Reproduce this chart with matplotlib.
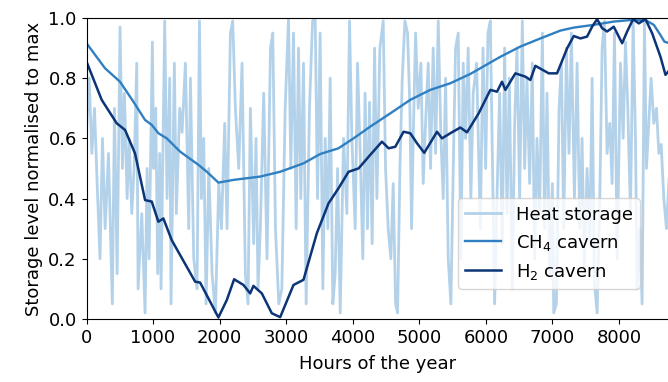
import numpy as np
import matplotlib
matplotlib.use("Agg")
import matplotlib.pyplot as plt

# Heat storage level as (hour, level) pairs
heat_points = [
    (0, 0.63), (40, 0.80), (80, 0.55), (120, 0.70), (160, 0.45), (203, 0.20),
    (240, 0.60), (280, 0.30), (330, 0.55), (388, 0.05), (420, 0.70), (460, 0.15),
    (504, 0.97), (540, 0.50), (570, 0.75), (610, 0.40), (640, 0.60), (680, 0.35),
    (715, 0.50), (755, 0.85), (775, 0.10), (830, 0.35), (880, 0.02), (910, 0.50),
    (940, 0.20), (990, 0.92), (1010, 0.50), (1040, 0.70), (1070, 0.15), (1100, 0.55),
    (1120, 0.10), (1175, 0.99), (1210, 0.40), (1250, 0.80), (1270, 0.05), (1320, 0.85),
    (1350, 0.35), (1400, 0.70), (1436, 0.62), (1486, 0.85), (1536, 0.30), (1561, 0.80),
    (1611, 0.20), (1661, 0.10), (1697, 0.99), (1727, 0.40), (1761, 0.60), (1797, 0.05),
    (1837, 0.50), (1887, 0.15), (1937, 0.02), (1987, 0.45), (2027, 0.30), (2077, 0.65),
    (2112, 0.30), (2162, 0.95), (2197, 0.99), (2237, 0.70), (2287, 0.50), (2337, 0.85),
    (2387, 0.15), (2427, 0.05), (2462, 0.70), (2512, 0.25), (2547, 0.60), (2577, 0.10),
    (2612, 0.30), (2662, 0.75), (2712, 0.20), (2764, 0.90), (2799, 0.95), (2839, 0.30),
    (2889, 0.05), (2935, 0.10), (2985, 0.70), (3035, 1.00), (3070, 0.50), (3110, 0.95),
    (3150, 0.30), (3185, 0.90), (3220, 0.40), (3260, 0.85), (3300, 0.05), (3350, 0.70),
    (3396, 0.99), (3436, 1.00), (3471, 0.40), (3510, 0.95), (3551, 0.10), (3586, 0.60),
    (3626, 0.30), (3661, 0.80), (3701, 0.05), (3736, 0.15), (3772, 0.50), (3812, 0.02),
    (3862, 0.60), (3912, 0.35), (3952, 0.99), (3987, 0.60), (4037, 0.30), (4072, 0.85),
    (4112, 0.55), (4152, 0.20), (4186, 0.75), (4222, 0.30), (4252, 0.72), (4292, 0.25),
    (4328, 0.90), (4363, 0.40), (4408, 0.90), (4458, 0.99), (4493, 0.50), (4533, 0.30),
    (4573, 0.20), (4608, 0.45), (4644, 0.05), (4674, 0.02), (4709, 0.50), (4744, 0.80),
    (4784, 0.99), (4824, 0.95), (4859, 0.70), (4884, 0.30), (4909, 0.60), (4944, 0.95),
    (4984, 0.70), (5024, 0.85), (5059, 0.45), (5094, 0.65), (5134, 0.85), (5169, 0.50),
    (5209, 0.90), (5245, 0.55), (5285, 0.99), (5325, 0.60), (5360, 0.40), (5395, 0.80),
    (5435, 0.20), (5475, 0.05), (5510, 0.50), (5545, 0.90), (5585, 0.95), (5625, 0.20),
    (5660, 0.85), (5695, 0.60), (5735, 0.90), (5775, 0.40), (5810, 0.75), (5861, 0.85),
    (5917, 0.30), (5957, 0.90), (5997, 0.50), (6032, 0.95), (6067, 0.99), (6107, 0.40),
    (6132, 0.05), (6167, 0.40), (6207, 0.75), (6247, 0.25), (6282, 0.90), (6318, 0.35),
    (6353, 0.80), (6398, 0.10), (6433, 0.65), (6468, 0.90), (6508, 0.40), (6548, 0.99),
    (6583, 0.50), (6618, 0.80), (6658, 0.45), (6698, 0.85), (6733, 0.20), (6768, 0.60),
    (6808, 0.35), (6849, 0.95), (6884, 0.30), (6919, 0.75), (6959, 0.15), (7000, 0.45),
    (7020, 0.02), (7060, 0.05), (7100, 0.70), (7135, 0.85), (7170, 0.30), (7210, 0.90),
    (7250, 0.55), (7285, 0.95), (7331, 0.40), (7371, 0.85), (7411, 0.30), (7446, 0.60),
    (7481, 0.15), (7521, 0.50), (7562, 0.25), (7597, 0.80), (7632, 0.12), (7672, 0.02),
    (7712, 0.40), (7747, 0.90), (7782, 0.99), (7822, 0.55), (7862, 0.65), (7897, 0.45),
    (7933, 0.95), (7973, 0.20), (8023, 0.85), (8063, 0.60), (8098, 0.92), (8133, 0.70),
    (8173, 0.35), (8213, 0.99), (8248, 0.60), (8273, 0.10), (8313, 0.30), (8348, 0.05),
    (8383, 0.99), (8413, 0.50), (8448, 0.65), (8483, 0.80), (8524, 0.65), (8564, 0.70),
    (8599, 0.55), (8634, 0.58), (8674, 0.40), (8714, 0.30), (8760, 0.50),
]
heat_hours = [p[0] for p in heat_points]
heat_level = [p[1] for p in heat_points]

ch4_hours = [
    0, 278, 504, 704, 880, 980, 1080, 1206, 1406, 1682, 1808, 1982, 2208, 2609,
    2910, 3260, 3511, 3786, 4012, 4263, 4564, 4865, 5165, 5466, 5767, 5917, 6218,
    6519, 6820, 7120, 7321, 7621, 7922, 8173, 8398, 8524, 8624, 8684, 8760,
]
ch4_level = [
    0.916, 0.833, 0.788, 0.722, 0.661, 0.645, 0.617, 0.600, 0.556, 0.512, 0.489,
    0.453, 0.462, 0.473, 0.489, 0.517, 0.548, 0.567, 0.600, 0.639, 0.683, 0.728,
    0.761, 0.783, 0.814, 0.833, 0.871, 0.905, 0.932, 0.958, 0.968, 0.977, 0.988,
    0.993, 0.993, 0.977, 0.943, 0.921, 0.916,
]

h2_hours = [
    0, 228, 454, 579, 729, 880, 980, 1080, 1155, 1280, 1632, 1707, 1982, 2108,
    2218, 2358, 2459, 2508, 2634, 2784, 2910, 3110, 3260, 3461, 3636, 3786, 3937,
    4087, 4263, 4439, 4539, 4639, 4764, 4865, 4965, 5075, 5266, 5341, 5466, 5617,
    5717, 5892, 6068, 6168, 6243, 6293, 6444, 6594, 6669, 6744, 6945, 7070, 7221,
    7321, 7421, 7521, 7597, 7672, 7747, 7822, 7922, 8048, 8123, 8213, 8298, 8398,
    8499, 8624, 8699, 8760,
]
h2_level = [
    0.855, 0.728, 0.650, 0.628, 0.550, 0.395, 0.390, 0.323, 0.334, 0.262, 0.124,
    0.121, 0.005, 0.063, 0.132, 0.113, 0.085, 0.110, 0.085, 0.019, 0.006, 0.113,
    0.130, 0.285, 0.384, 0.434, 0.489, 0.500, 0.545, 0.589, 0.567, 0.572, 0.622,
    0.617, 0.584, 0.552, 0.622, 0.600, 0.617, 0.636, 0.620, 0.683, 0.761, 0.755,
    0.788, 0.761, 0.816, 0.805, 0.794, 0.841, 0.816, 0.816, 0.899, 0.940, 0.932,
    0.938, 0.971, 0.996, 0.966, 0.955, 0.971, 0.916, 0.955, 0.996, 0.982, 0.996,
    0.949, 0.871, 0.811, 0.827,
]

plt.rcParams["font.size"] = 13

fig = plt.figure(figsize=(6.68, 3.82), dpi=100)
ax = fig.add_axes([0.1295, 0.165, 0.8728, 0.788])

ax.plot(heat_hours, heat_level, color="#b3d2ea", lw=2.0, label="Heat storage")
ax.plot(ch4_hours, ch4_level, color="#2f7fc1", lw=1.7, label="CH$_4$ cavern")
ax.plot(h2_hours, h2_level, color="#0b3577", lw=1.8, label="H$_2$ cavern")

ax.set_xlim(0, 8760)
ax.set_ylim(0, 1)
ax.set_xticks(np.arange(0, 8001, 1000))
ax.set_yticks(np.arange(0, 1.01, 0.2))
ax.set_xlabel("Hours of the year", labelpad=6)
ax.set_ylabel("Storage level normalised to max")
ax.legend(loc="lower right", bbox_to_anchor=(0.965, 0.07))

fig.savefig("out.png", dpi=100)
